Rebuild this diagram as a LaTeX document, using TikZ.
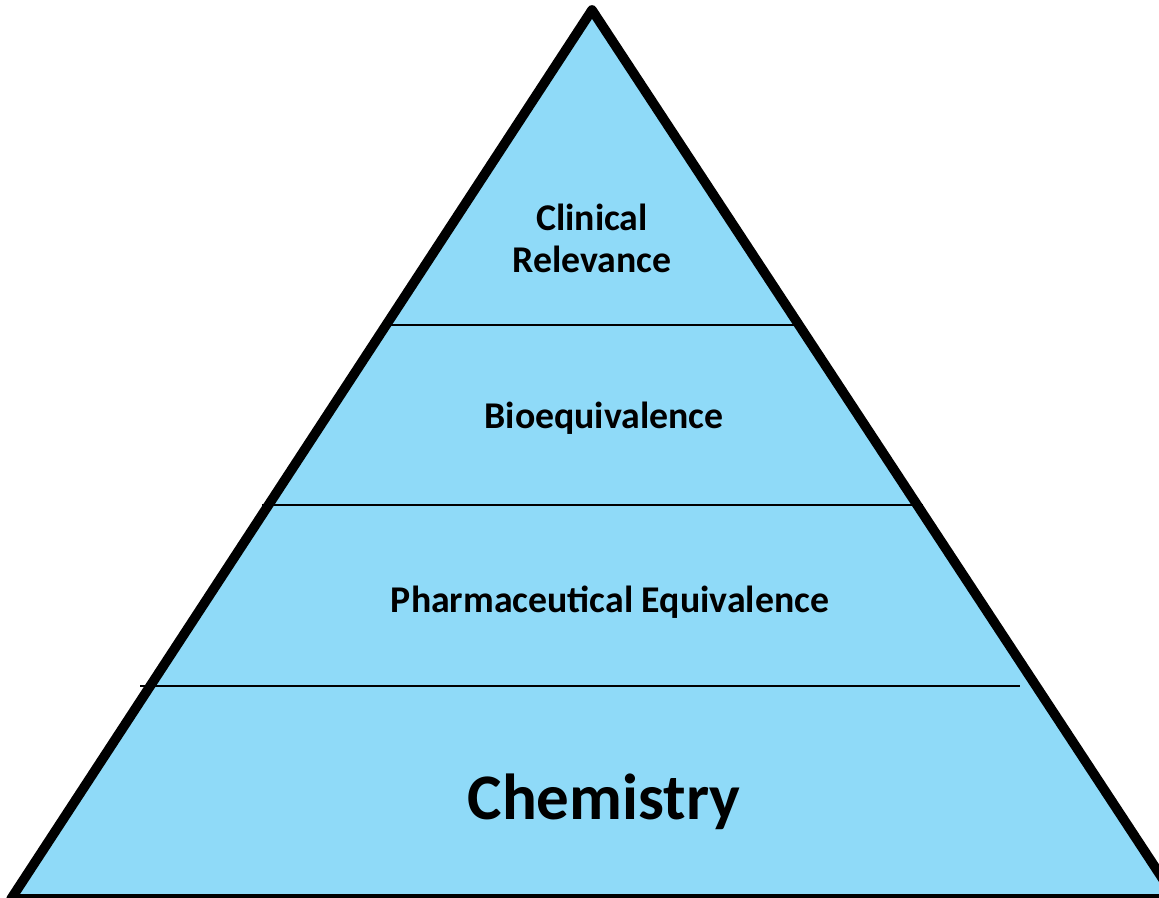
\documentclass[tikz,border=0pt]{standalone}
\usepackage{fontspec}
\setmainfont{Carlito}
\definecolor{pyramidblue}{RGB}{143,218,248}
\begin{document}
\begin{tikzpicture}[x=0.02cm,y=-0.02cm,
  level/.style={font=\bfseries\fontsize{21.5}{24}\selectfont,align=center},
  sep/.style={line width=1pt}]
  \useasboundingbox (0,0) rectangle (1159,897);
  \coordinate (top) at (592,10);
  \coordinate (bl) at (11,899);
  \coordinate (br) at (1176,899);
  \fill[pyramidblue] (top) -- (bl) -- (br) -- cycle;
  % separators
  \coordinate (s1l) at (384,325);
  \coordinate (s1r) at (800,325);
  \coordinate (s2l) at (262,505);
  \coordinate (s2r) at (923,505);
  \coordinate (s3l) at (140,686);
  \coordinate (s3r) at (1020,686);
  \draw[sep] (s1l) -- (s1r);
  \draw[sep] (s2l) -- (s2r);
  \draw[sep] (s3l) -- (s3r);
  \draw[line width=5.5pt,line join=round] (top) -- (bl) -- (br) -- cycle;
  \node[level] (clin) at (592,238) {Clinical\\Relevance};
  \node[level] (bio) at (604,418) {Bioequivalence};
  \node[level] (pharm) at (610,602) {Pharmaceutical Equivalence};
  \node[level,font=\bfseries\fontsize{37}{44}\selectfont] (chem) at (604,802) {Chemistry};
\end{tikzpicture}
\end{document}
